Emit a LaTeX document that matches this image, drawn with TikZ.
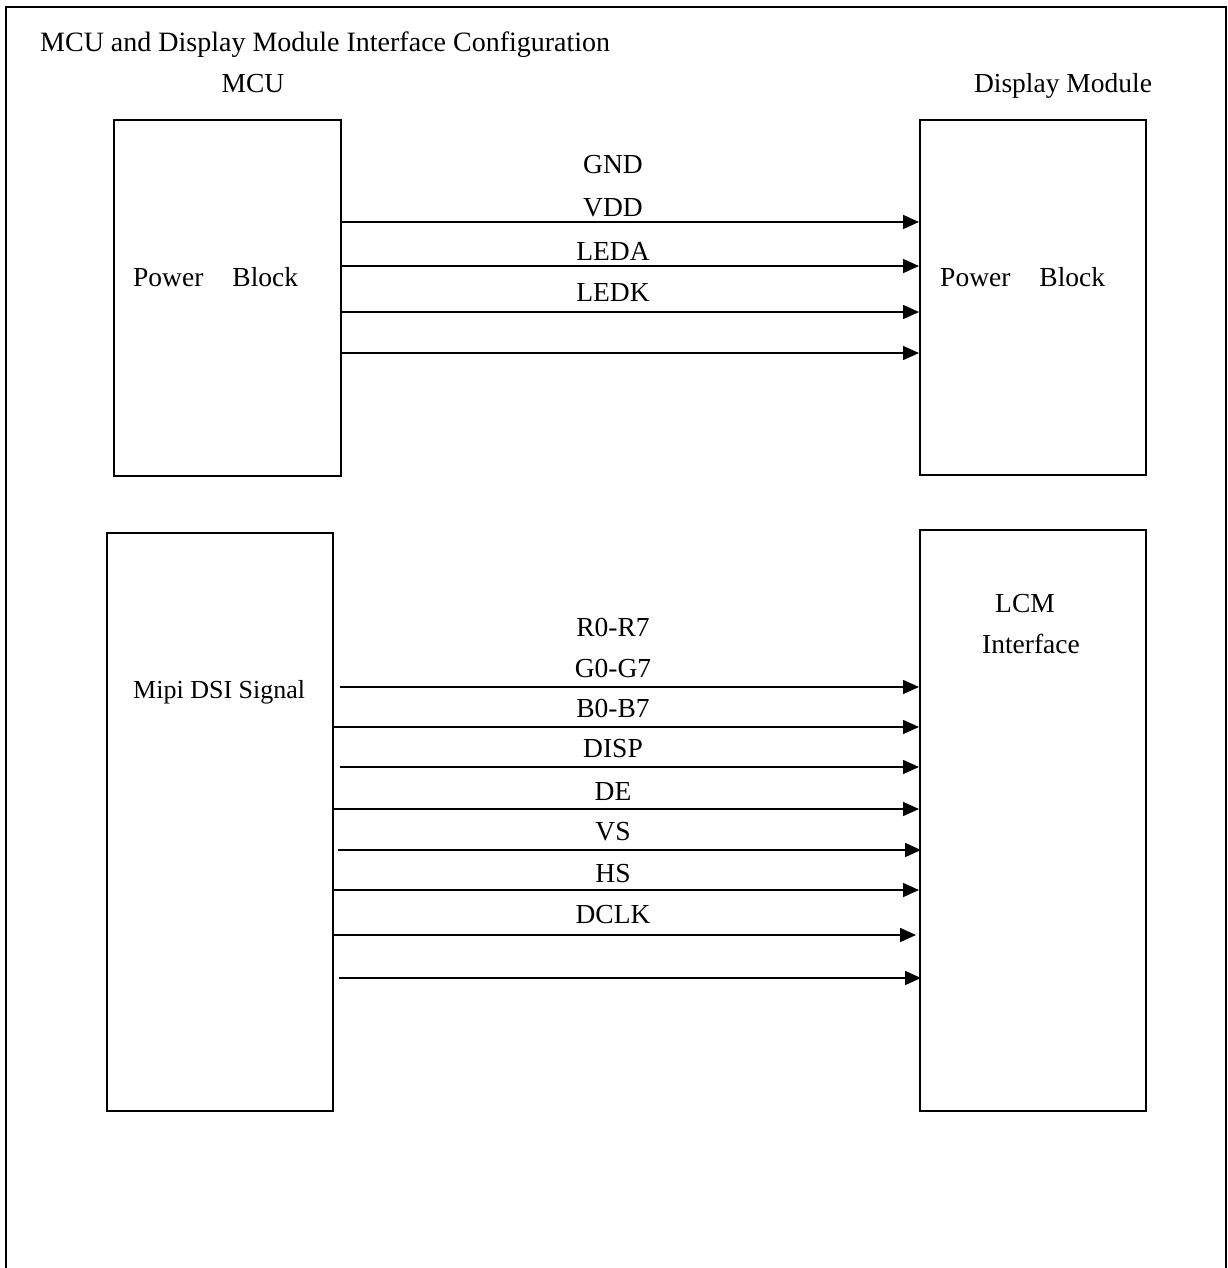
\documentclass[tikz,border=0pt]{standalone}
\usepackage{fontspec}
\setmainfont{Liberation Serif}
\usetikzlibrary{arrows.meta}
\begin{document}
\begin{tikzpicture}[x=1pt,y=-1pt,
  box/.style={draw,line width=1.6pt,inner sep=0pt,anchor=north west},
  lbl/.style={inner sep=0pt,font=\fontsize{27.5}{32}\selectfont},
  sig/.style={line width=1.6pt,-{Triangle[length=16pt,width=14pt]}}]
\useasboundingbox (0,0) rectangle (1227,1268);
\draw[line width=1.6pt] (6,1268) -- (6,7) -- (1226,7) -- (1226,1268);
% boxes
\node[box,minimum width=227pt,minimum height=356pt] (mpow) at (113,119) {};
\node[box,minimum width=226pt,minimum height=355pt] (dpow) at (919,119) {};
\node[box,minimum width=226pt,minimum height=578pt] (mipi) at (106,532) {};
\node[box,minimum width=226pt,minimum height=581pt] (lcm) at (919,529) {};
% texts
\node[lbl,font=\fontsize{28}{32}\selectfont,anchor=base west] (title) at (40,52) {MCU and Display Module Interface Configuration};
\node[lbl,anchor=base] (tmcu) at (253,93) {MCU};
\node[lbl,anchor=base] (tdm) at (1063,93) {Display Module};
\node[lbl,anchor=base west] (tpb1) at (133,286) {Power\hspace{29pt}Block};
\node[lbl,anchor=base west] (tpb2) at (940,286) {Power\hspace{29pt}Block};
\node[lbl,font=\fontsize{26}{30}\selectfont,anchor=base west] (tmipi) at (133,698) {Mipi DSI Signal};
\node[lbl,anchor=base] (tlcm) at (1025,612) {LCM};
\node[lbl,anchor=base] (tif) at (1031,653) {Interface};
% power labels
\foreach \n/\t/\y in {gnd/GND/174,vdd/VDD/216,leda/LEDA/260,ledk/LEDK/301}
  \node[lbl,anchor=base] (\n) at (613,\y) {\t};
% signal labels
\foreach \n/\t/\y in {rr/R0-R7/636,gg/G0-G7/677,bb/B0-B7/717,disp/DISP/757,de/DE/800,vs/VS/840,hs/HS/882,dclk/DCLK/923}
  \node[lbl,anchor=base] (\n) at (613,\y) {\t};
% power arrows
\foreach \y in {222,266,312,353}
  \draw[sig] (mpow.east |- 0,\y) -- (dpow.west |- 0,\y);
% signal arrows
\foreach \dx/\y/\ex in {6/687/0,0/727/0,6/767/0,0/809/0,4/850/2,0/890/0,-1/935/-3,5/978/2}
  \draw[sig] ([xshift=\dx pt]mipi.east |- 0,\y) -- ([xshift=\ex pt]lcm.west |- 0,\y);
\end{tikzpicture}
\end{document}
